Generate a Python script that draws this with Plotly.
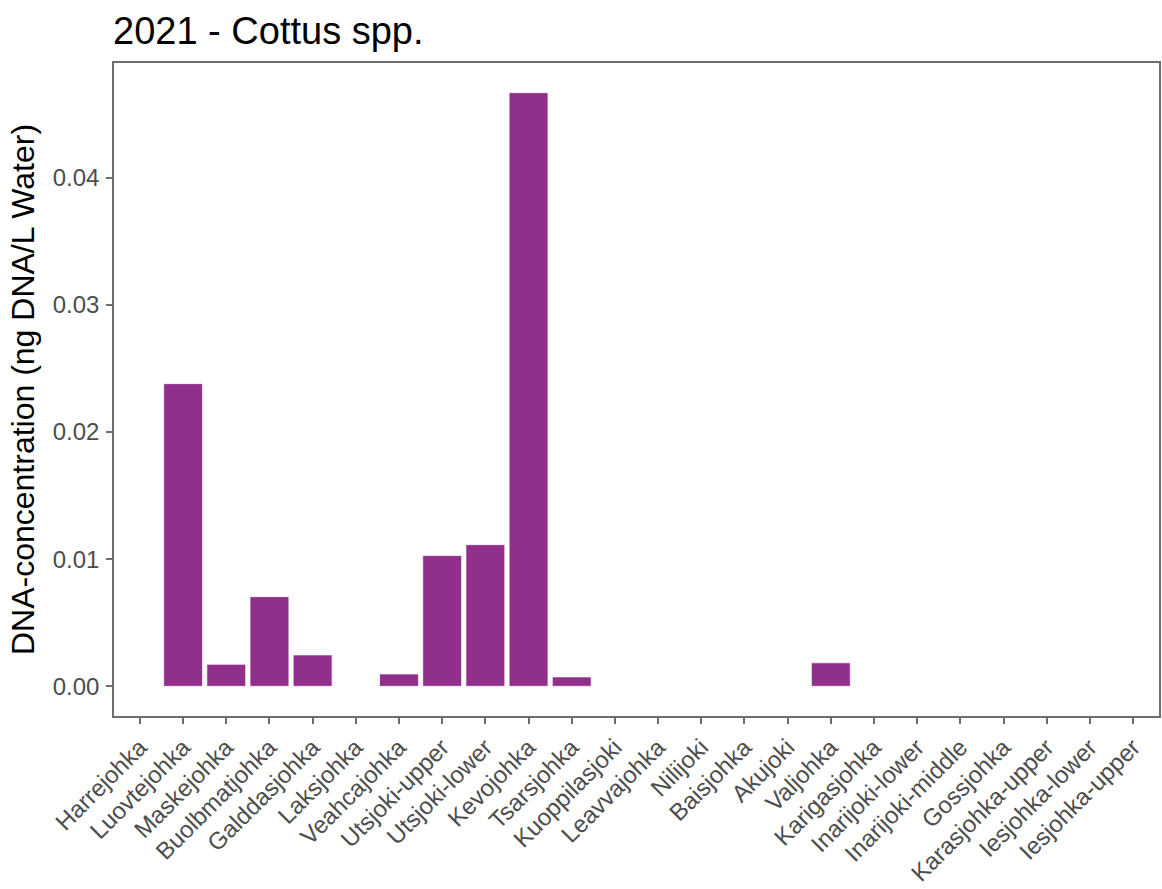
import plotly.graph_objects as go

# Sampling sites (river / tributary) along the x axis
sites = [
    "Harrejohka", "Luovtejohka", "Maskejohka", "Buolbmatjohka", "Galddasjohka",
    "Laksjohka", "Veahcajohka", "Utsjoki-upper", "Utsjoki-lower", "Kevojohka",
    "Tsarsjohka", "Kuoppilasjoki", "Leavvajohka", "Nilijoki", "Baisjohka",
    "Akujoki", "Valjohka", "Karigasjohka", "Inarijoki-lower", "Inarijoki-middle",
    "Gossjohka", "Karasjohka-upper", "Iesjohka-lower", "Iesjohka-upper",
]

# Cottus spp. eDNA concentration, ng DNA per litre of water (2021)
concentration = [
    0.0, 0.0238, 0.00173, 0.00705, 0.00247,
    0.0, 0.00097, 0.01028, 0.01114, 0.04668,
    0.00074, 0.0, 0.0, 0.0, 0.0,
    0.0, 0.00185, 0.0, 0.0, 0.0,
    0.0, 0.0, 0.0, 0.0,
]

y_ticks = [0.0, 0.01, 0.02, 0.03, 0.04]
y_tick_text = ["0.00", "0.01", "0.02", "0.03", "0.04"]

bar_color = "#91308A"
frame_color = "#6e6e6e"
label_color = "#4D4D4D"
font_family = "Liberation Sans, Arial, sans-serif"

ymax = max(concentration)
pad = 0.05 * ymax

fig = go.Figure(
    go.Bar(
        x=sites,
        y=concentration,
        width=0.9,
        marker=dict(color=bar_color, line=dict(color="rgba(255,255,255,0.7)", width=1)),
        showlegend=False,
    )
)

fig.update_layout(
    width=1162,
    height=889,
    margin=dict(l=114, r=1, t=63, b=173),
    paper_bgcolor="white",
    plot_bgcolor="white",
    font=dict(family=font_family),
    bargap=0.1,
    title=dict(
        text="2021 - Cottus spp.",
        xref="container", yref="container",
        x=113 / 1162, y=1 - 31 / 889,
        xanchor="left", yanchor="middle",
        font=dict(size=38, color="black", family=font_family),
    ),
)

fig.update_xaxes(
    type="category",
    categoryorder="array",
    categoryarray=sites,
    range=[-0.6, len(sites) - 0.4],
    tickangle=-45,
    ticks="outside",
    ticklen=6,
    tickwidth=1.5,
    tickcolor=frame_color,
    tickfont=dict(size=24, color=label_color),
    showline=True,
    linecolor=frame_color,
    linewidth=1.5,
    mirror=True,
    showgrid=False,
    zeroline=False,
)

fig.update_yaxes(
    range=[-pad, ymax + pad],
    tickvals=y_ticks,
    ticktext=y_tick_text,
    ticks="outside",
    ticklen=6,
    tickwidth=1.5,
    tickcolor=frame_color,
    tickfont=dict(size=24, color=label_color),
    ticklabelstandoff=2,
    showline=True,
    linecolor=frame_color,
    linewidth=1.5,
    mirror=True,
    showgrid=False,
    zeroline=False,
    title=dict(
        text="DNA-concentration (ng DNA/L Water)",
        font=dict(size=32, color="black"),
        standoff=9,
    ),
)

fig.write_html("out.html")
